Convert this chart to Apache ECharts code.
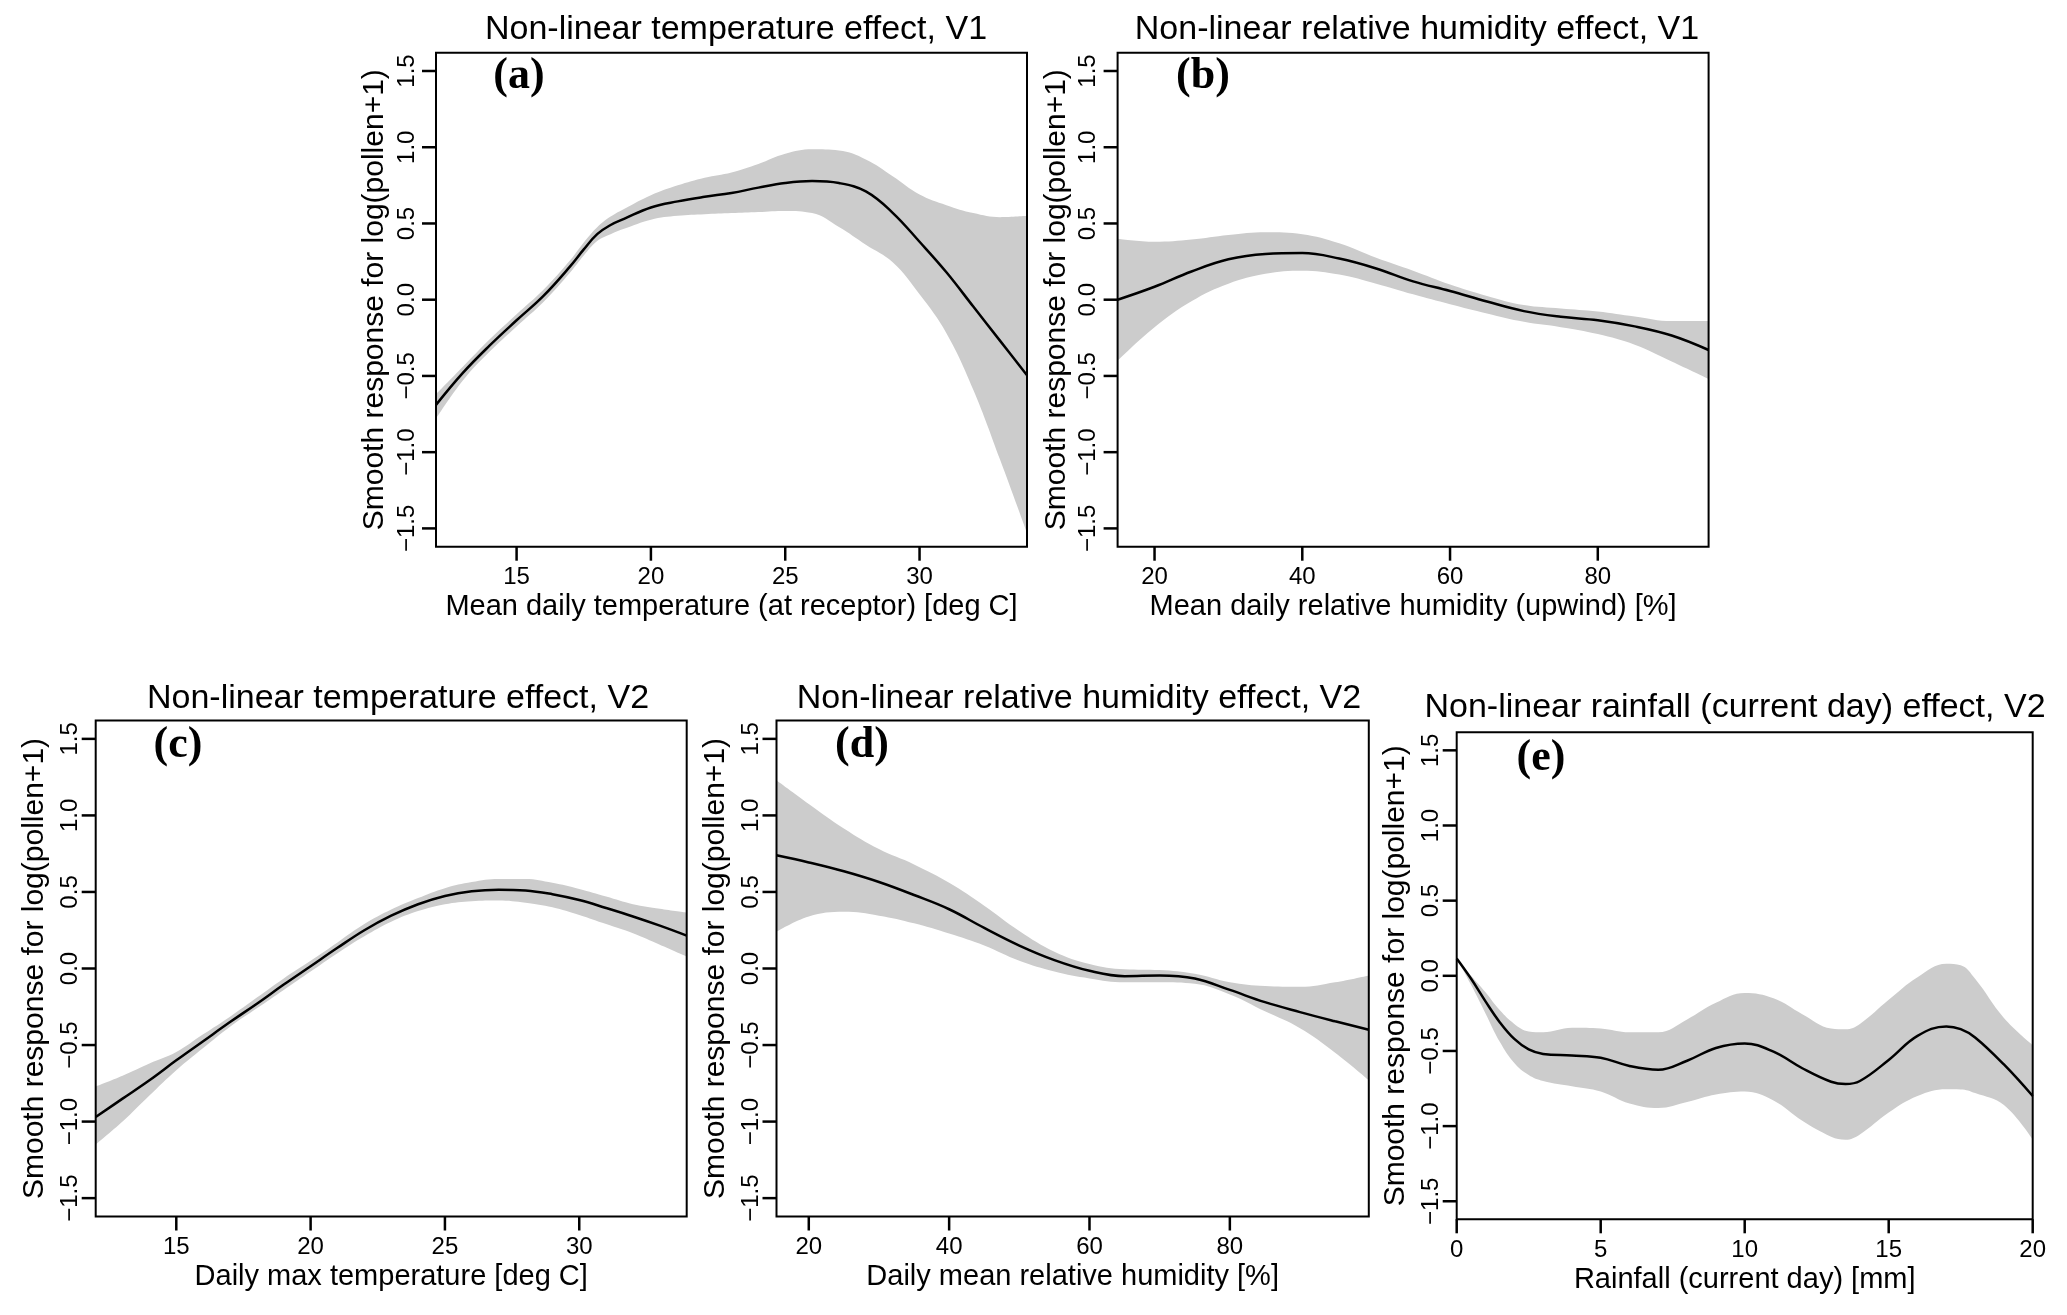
<!DOCTYPE html>
<html>
<head>
<meta charset="utf-8">
<script src="https://cdn.jsdelivr.net/npm/echarts@6/dist/echarts.min.js"></script>
<style>
  html, body { margin: 0; padding: 0; background: #fff; }
  #chart { width: 2067px; height: 1315px; }
</style>
</head>
<body>
<div id="chart"></div>
<script>
// ---------------- data ----------------
const Y_TICKS = [-1.5, -1.0, -0.5, 0, 0.5, 1.0, 1.5];
const Y_MIN = -1.62, Y_MAX = 1.62;

// (a) temperature V1
const A_X   = [12, 13, 14, 15, 16, 17, 17.5, 18, 18.5, 19, 20, 21, 22, 23, 24, 25, 26, 27, 28, 29, 30, 31, 32, 33, 34];
const A_FIT = [-0.69, -0.48, -0.30, -0.135, 0.025, 0.22, 0.33, 0.43, 0.49, 0.53, 0.605, 0.645, 0.675, 0.70, 0.735, 0.765, 0.778, 0.765, 0.71, 0.57, 0.38, 0.18, -0.045, -0.27, -0.495];
const A_HI  = [-0.62, -0.44, -0.26, -0.095, 0.065, 0.26, 0.375, 0.475, 0.545, 0.595, 0.685, 0.75, 0.80, 0.835, 0.89, 0.957, 0.986, 0.978, 0.92, 0.81, 0.69, 0.62, 0.568, 0.541, 0.55];
const A_LO  = [-0.78, -0.53, -0.34, -0.175, -0.015, 0.18, 0.29, 0.385, 0.43, 0.465, 0.525, 0.55, 0.56, 0.568, 0.575, 0.582, 0.568, 0.476, 0.36, 0.245, 0.035, -0.22, -0.59, -1.05, -1.53];
const A_XTICKS = [15, 20, 25, 30];

// (b) relative humidity V1
const B_X   = [15, 20, 25, 30, 35, 40, 45, 50, 55, 60, 65, 70, 75, 80, 85, 90, 95];
const B_FIT = [0.0, 0.085, 0.185, 0.265, 0.30, 0.306, 0.27, 0.205, 0.12, 0.057, -0.012, -0.075, -0.112, -0.135, -0.175, -0.235, -0.33];
const B_HI  = [0.40, 0.38, 0.395, 0.425, 0.443, 0.43, 0.37, 0.275, 0.19, 0.10, 0.025, -0.035, -0.057, -0.077, -0.11, -0.14, -0.14];
const B_LO  = [-0.40, -0.18, -0.01, 0.105, 0.17, 0.19, 0.165, 0.105, 0.035, -0.03, -0.09, -0.145, -0.18, -0.225, -0.295, -0.405, -0.52];
const B_XTICKS = [20, 40, 60, 80];

// (c) temperature V2
const C_X   = [12, 13, 14, 15, 16, 17, 18, 19, 20, 21, 22, 23, 24, 25, 26, 27, 28, 29, 30, 31, 32, 33, 34];
const C_FIT = [-0.97, -0.85, -0.73, -0.60, -0.475, -0.35, -0.23, -0.105, 0.015, 0.135, 0.25, 0.345, 0.42, 0.474, 0.505, 0.515, 0.51, 0.485, 0.447, 0.395, 0.34, 0.28, 0.215];
const C_HI  = [-0.77, -0.70, -0.62, -0.545, -0.43, -0.315, -0.19, -0.065, 0.05, 0.17, 0.29, 0.385, 0.46, 0.525, 0.565, 0.585, 0.585, 0.56, 0.52, 0.47, 0.42, 0.39, 0.365];
const C_LO  = [-1.15, -1.00, -0.83, -0.665, -0.52, -0.38, -0.26, -0.14, -0.02, 0.10, 0.21, 0.305, 0.375, 0.42, 0.44, 0.445, 0.43, 0.40, 0.35, 0.29, 0.23, 0.155, 0.078];
const C_XTICKS = [15, 20, 25, 30];

// (d) relative humidity V2
const D_X   = [15.4, 20, 25, 30, 35, 40, 45, 50, 55, 60, 65, 70, 75, 80, 85, 90, 95, 99.8];
const D_FIT = [0.74, 0.693, 0.635, 0.565, 0.48, 0.387, 0.265, 0.15, 0.055, -0.015, -0.05, -0.045, -0.065, -0.14, -0.22, -0.285, -0.345, -0.40];
const D_HI  = [1.23, 1.075, 0.915, 0.78, 0.68, 0.56, 0.41, 0.245, 0.11, 0.03, -0.005, -0.01, -0.035, -0.09, -0.115, -0.12, -0.09, -0.045];
const D_LO  = [0.24, 0.34, 0.37, 0.345, 0.295, 0.228, 0.15, 0.05, -0.02, -0.065, -0.09, -0.09, -0.10, -0.17, -0.28, -0.39, -0.55, -0.73];
const D_XTICKS = [20, 40, 60, 80];

// (e) rainfall V2
const E_X   = [0, 0.5, 1, 1.5, 2, 2.5, 3, 4, 5, 6, 7, 8, 9, 10, 11, 12, 13, 13.5, 14, 15, 16, 17, 17.5, 18, 19, 20];
const E_FIT = [0.115, -0.02, -0.17, -0.31, -0.42, -0.49, -0.52, -0.53, -0.545, -0.60, -0.625, -0.565, -0.48, -0.45, -0.505, -0.615, -0.705, -0.72, -0.70, -0.56, -0.40, -0.337, -0.355, -0.41, -0.59, -0.80];
const E_HI  = [0.115, 0.0, -0.11, -0.23, -0.32, -0.37, -0.375, -0.345, -0.35, -0.375, -0.375, -0.29, -0.18, -0.115, -0.15, -0.255, -0.35, -0.355, -0.32, -0.16, -0.01, 0.08, 0.07, -0.02, -0.28, -0.46];
const E_LO  = [0.115, -0.06, -0.25, -0.44, -0.58, -0.66, -0.70, -0.735, -0.77, -0.85, -0.88, -0.84, -0.79, -0.77, -0.83, -0.965, -1.07, -1.09, -1.055, -0.91, -0.80, -0.755, -0.756, -0.78, -0.86, -1.09];
const E_XTICKS = [0, 5, 10, 15, 20];

// ---------------- layout ----------------
const FONT = '"Liberation Sans", Arial, Helvetica, sans-serif';
const SERIF = '"Liberation Serif", "Times New Roman", serif';
const TICK_LEN = 14;

const panels = [
  { id: 'a', x: A_X, fit: A_FIT, hi: A_HI, lo: A_LO, xmin: 12, xmax: 34, xticks: A_XTICKS,
    title: 'Non-linear temperature effect, V1', xname: 'Mean daily temperature (at receptor) [deg C]',
    grid: { left: 436, top: 52.7, width: 591, height: 494 }, tcx: 736, tby: 47, lab: [519, 77], ylm: 17 },
  { id: 'b', x: B_X, fit: B_FIT, hi: B_HI, lo: B_LO, xmin: 15, xmax: 95, xticks: B_XTICKS,
    title: 'Non-linear relative humidity effect, V1', xname: 'Mean daily relative humidity (upwind) [%]',
    grid: { left: 1117.6, top: 52.7, width: 591, height: 494 }, tcx: 1417, tby: 47, lab: [1203, 77], ylm: 17 },
  { id: 'c', x: C_X, fit: C_FIT, hi: C_HI, lo: C_LO, xmin: 12, xmax: 34, xticks: C_XTICKS,
    title: 'Non-linear temperature effect, V2', xname: 'Daily max temperature [deg C]',
    grid: { left: 95.7, top: 720.5, width: 591, height: 496 }, tcx: 398, tby: 716, lab: [178, 746], ylm: 13 },
  { id: 'd', x: D_X, fit: D_FIT, hi: D_HI, lo: D_LO, xmin: 15.4, xmax: 99.8, xticks: D_XTICKS,
    title: 'Non-linear relative humidity effect, V2', xname: 'Daily mean relative humidity [%]',
    grid: { left: 776.5, top: 720.5, width: 592.3, height: 496 }, tcx: 1079, tby: 716, lab: [862, 746], ylm: 13 },
  { id: 'e', x: E_X, fit: E_FIT, hi: E_HI, lo: E_LO, xmin: 0, xmax: 20, xticks: E_XTICKS,
    title: 'Non-linear rainfall (current day) effect, V2', xname: 'Rainfall (current day) [mm]',
    grid: { left: 1456.7, top: 732.3, width: 576, height: 487 }, tcx: 1735, tby: 725, lab: [1541, 759], ylm: 13 }
];

const fmtY = v => (v < 0 ? '\u2212' : '') + Math.abs(v).toFixed(1);

const grids = [], xAxes = [], yAxes = [], series = [], graphics = [];
const fitSeriesIndex = [];

panels.forEach((p, i) => {
  grids.push(Object.assign({ show: true, z: 5, backgroundColor: 'transparent', borderColor: '#000', borderWidth: 2 }, p.grid));
  xAxes.push({
    type: 'value', gridIndex: i, min: p.xmin, max: p.xmax, position: 'bottom',
    axisLine: { show: false, onZero: false },
    axisTick: { show: false },
    axisLabel: { show: true, customValues: p.xticks, color: '#000', fontFamily: FONT, fontSize: 24, margin: 19 },
    splitLine: { show: false },
    name: p.xname, nameLocation: 'middle', nameGap: 46,
    nameTextStyle: { color: '#000', fontFamily: FONT, fontSize: 29 }
  });
  yAxes.push({
    type: 'value', gridIndex: i, min: Y_MIN, max: Y_MAX, position: 'left',
    axisLine: { show: false, onZero: false },
    axisTick: { show: false },
    axisLabel: { show: true, customValues: Y_TICKS, rotate: 90, formatter: fmtY, color: '#000', fontFamily: FONT, fontSize: 24, margin: p.ylm },
    splitLine: { show: false },
    name: 'Smooth response for log(pollen+1)', nameLocation: 'middle', nameRotate: 90, nameGap: 46,
    nameTextStyle: { color: '#000', fontFamily: FONT, fontSize: 30 }
  });
  // confidence band: grey area under the upper bound, then white area under the lower bound
  series.push({
    type: 'line', xAxisIndex: i, yAxisIndex: i,
    data: p.x.map((x, k) => [x, p.hi[k]]),
    smooth: 0.4, showSymbol: false, symbol: 'none', lineStyle: { width: 0, opacity: 0 },
    areaStyle: { color: '#cccccc', opacity: 1, origin: 'start' }, silent: true, z: 1
  });
  series.push({
    type: 'line', xAxisIndex: i, yAxisIndex: i,
    data: p.x.map((x, k) => [x, p.lo[k]]),
    smooth: 0.4, showSymbol: false, symbol: 'none', lineStyle: { width: 0, opacity: 0 },
    areaStyle: { color: '#ffffff', opacity: 1, origin: 'start' }, silent: true, z: 2
  });
  // fitted smooth
  fitSeriesIndex.push(series.length);
  series.push({
    type: 'line', xAxisIndex: i, yAxisIndex: i,
    data: p.x.map((x, k) => [x, p.fit[k]]),
    smooth: 0.4, showSymbol: false, symbol: 'none', lineStyle: { color: '#000', width: 2.5 }, silent: true, z: 3
  });

  graphics.push({
    type: 'text', id: 'title_' + p.id, x: p.tcx, y: p.tby, silent: true,
    style: { text: p.title, fill: '#000', font: '34px ' + FONT, textAlign: 'center', textVerticalAlign: 'bottom' }
  });
  graphics.push({
    type: 'text', id: 'label_' + p.id, x: p.lab[0], y: p.lab[1], silent: true,
    style: { text: '(' + p.id + ')', fill: '#000', font: 'bold 44px ' + SERIF, textAlign: 'center', textVerticalAlign: 'middle' }
  });
});

const chart = echarts.init(document.getElementById('chart'), null, { renderer: 'canvas' });
chart.setOption({
  animation: false,
  backgroundColor: '#ffffff',
  grid: grids,
  xAxis: xAxes,
  yAxis: yAxes,
  series: series,
  graphic: graphics
});

// data -> pixel through the library's own scales (several finders tried in turn)
function toPixel(i, x, y) {
  const ok = pt => Array.isArray(pt) && isFinite(pt[0]) && isFinite(pt[1]);
  let pt;
  try { pt = chart.convertToPixel({ seriesIndex: fitSeriesIndex[i] }, [x, y]); } catch (e) { pt = null; }
  if (ok(pt)) return pt;
  try { pt = chart.convertToPixel({ gridIndex: i }, [x, y]); } catch (e) { pt = null; }
  if (ok(pt)) return pt;
  try {
    const px = chart.convertToPixel({ xAxisIndex: i }, x);
    const py = chart.convertToPixel({ yAxisIndex: i }, y);
    pt = [Array.isArray(px) ? px[0] : px, Array.isArray(py) ? py[1] : py];
  } catch (e) { pt = null; }
  return ok(pt) ? pt : null;
}

// outward tick marks
const tickGraphics = [];
panels.forEach((p, i) => {
  p.xticks.forEach((v, k) => {
    const pt = toPixel(i, v, Y_MIN);
    if (!pt) return;
    tickGraphics.push({
      type: 'line', id: 'xt_' + p.id + '_' + k, silent: true, z: 100,
      shape: { x1: pt[0], y1: pt[1], x2: pt[0], y2: pt[1] + TICK_LEN },
      style: { stroke: '#000000', lineWidth: 2.5 }
    });
  });
  Y_TICKS.forEach((v, k) => {
    const pt = toPixel(i, p.xmin, v);
    if (!pt) return;
    tickGraphics.push({
      type: 'line', id: 'yt_' + p.id + '_' + k, silent: true, z: 100,
      shape: { x1: pt[0], y1: pt[1], x2: pt[0] - TICK_LEN, y2: pt[1] },
      style: { stroke: '#000000', lineWidth: 2.5 }
    });
  });
});
if (tickGraphics.length) {
  chart.setOption({ graphic: { elements: tickGraphics } });
}
</script>
</body>
</html>
